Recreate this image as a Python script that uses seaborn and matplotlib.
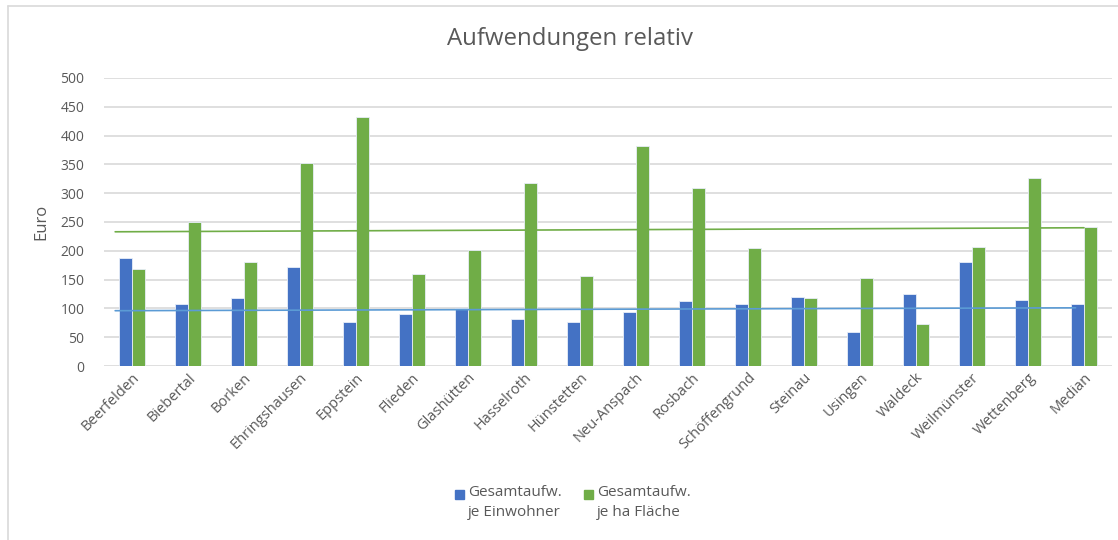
import numpy as np
import pandas as pd
import seaborn as sns
import matplotlib.pyplot as plt
from matplotlib.lines import Line2D

orte = ["Beerfelden", "Biebertal", "Borken", "Ehringshausen", "Eppstein", "Flieden",
        "Glashütten", "Hasselroth", "Hünstetten", "Neu-Anspach", "Rosbach", "Schöffengrund",
        "Steinau", "Usingen", "Waldeck", "Weilmünster", "Wettenberg", "Median"]
je_einwohner = [187, 108, 118, 172, 76, 91, 101, 82, 76, 93, 113, 108, 120, 59, 125, 180, 114, 108]
je_flaeche = [168, 250, 181, 352, 433, 160, 202, 317, 157, 382, 309, 204, 118, 152, 73, 206, 326, 241]
# trend lines (start / end value)
trend_einwohner = [96, 101]
trend_flaeche = [233, 240]

serien = ["Gesamtaufw.\nje Einwohner", "Gesamtaufw.\nje ha Fläche"]
farben = {serien[0]: "#4472C4", serien[1]: "#70AD47"}

df = pd.DataFrame({"Ort": orte * 2,
                   "Serie": [serien[0]] * len(orte) + [serien[1]] * len(orte),
                   "Euro": je_einwohner + je_flaeche})

sns.set_theme(style="white")
plt.rcParams['font.family'] = ['Open Sans', 'DejaVu Sans']
grau = "#595959"

fig = plt.figure(figsize=(11.18, 5.4), dpi=100)
ax = fig.add_axes([0.093, 0.3222, 0.9016, 0.5334])

g = sns.barplot(data=df, x="Ort", y="Euro", hue="Serie", palette=farben,
                width=0.48, gap=0, edgecolor="#e8eef8", linewidth=0.6,
                saturation=1, ax=ax, zorder=2, legend=False)

n = len(orte)
ax.plot([0 - 0.3, n - 1 - 0.15], trend_einwohner, color="#5B9BD5", lw=1.2, zorder=3)
ax.plot([0 - 0.3, n - 1], trend_flaeche, color="#70AD47", lw=1.2, zorder=3)

ax.set_ylim(0, 500)
ax.set_xlim(-0.5, n - 0.5)
ax.set_yticks(range(0, 501, 50))
ax.yaxis.grid(True, color="#d9d9d9", lw=1.2, zorder=0)
ax.set_axisbelow(True)
sns.despine(ax=ax, left=True, bottom=True, top=True, right=True)
ax.tick_params(axis="y", length=0, labelsize=10, labelcolor=grau, pad=14)
ax.tick_params(axis="x", length=0, labelsize=10.5, labelcolor=grau, pad=3)
ax.set_xticks(range(n))
ax.set_xticklabels(orte, rotation=45, ha="right", rotation_mode="anchor")
ax.set_xlabel("")
ax.set_ylabel("Euro", fontsize=12, color=grau, labelpad=8)

fig.suptitle("Aufwendungen relativ", x=0.51, y=0.95, fontsize=17.3, color=grau)

# legend: square aligned with the first text line, like the Excel original
leg_x = [455, 584]
for s, x0 in zip(serien, leg_x):
    fig.patches.append(plt.Rectangle((x0 / 1118, 1 - 499 / 540), 9 / 1118, 9 / 540,
                                     transform=fig.transFigure, color=farben[s]))
    fig.text((x0 + 13) / 1118, 1 - 485 / 540, s, ha="left", va="top",
             fontsize=11, color=grau, linespacing=1.45)

# chart border
fig.add_artist(Line2D([7.5 / 1118, 1.0], [1 - 6 / 540, 1 - 6 / 540], color="#d9d9d9", lw=1.2))
fig.add_artist(Line2D([7.5 / 1118, 7.5 / 1118], [0, 1 - 6 / 540], color="#d9d9d9", lw=1.2))

fig.savefig("out.png", dpi=100)
